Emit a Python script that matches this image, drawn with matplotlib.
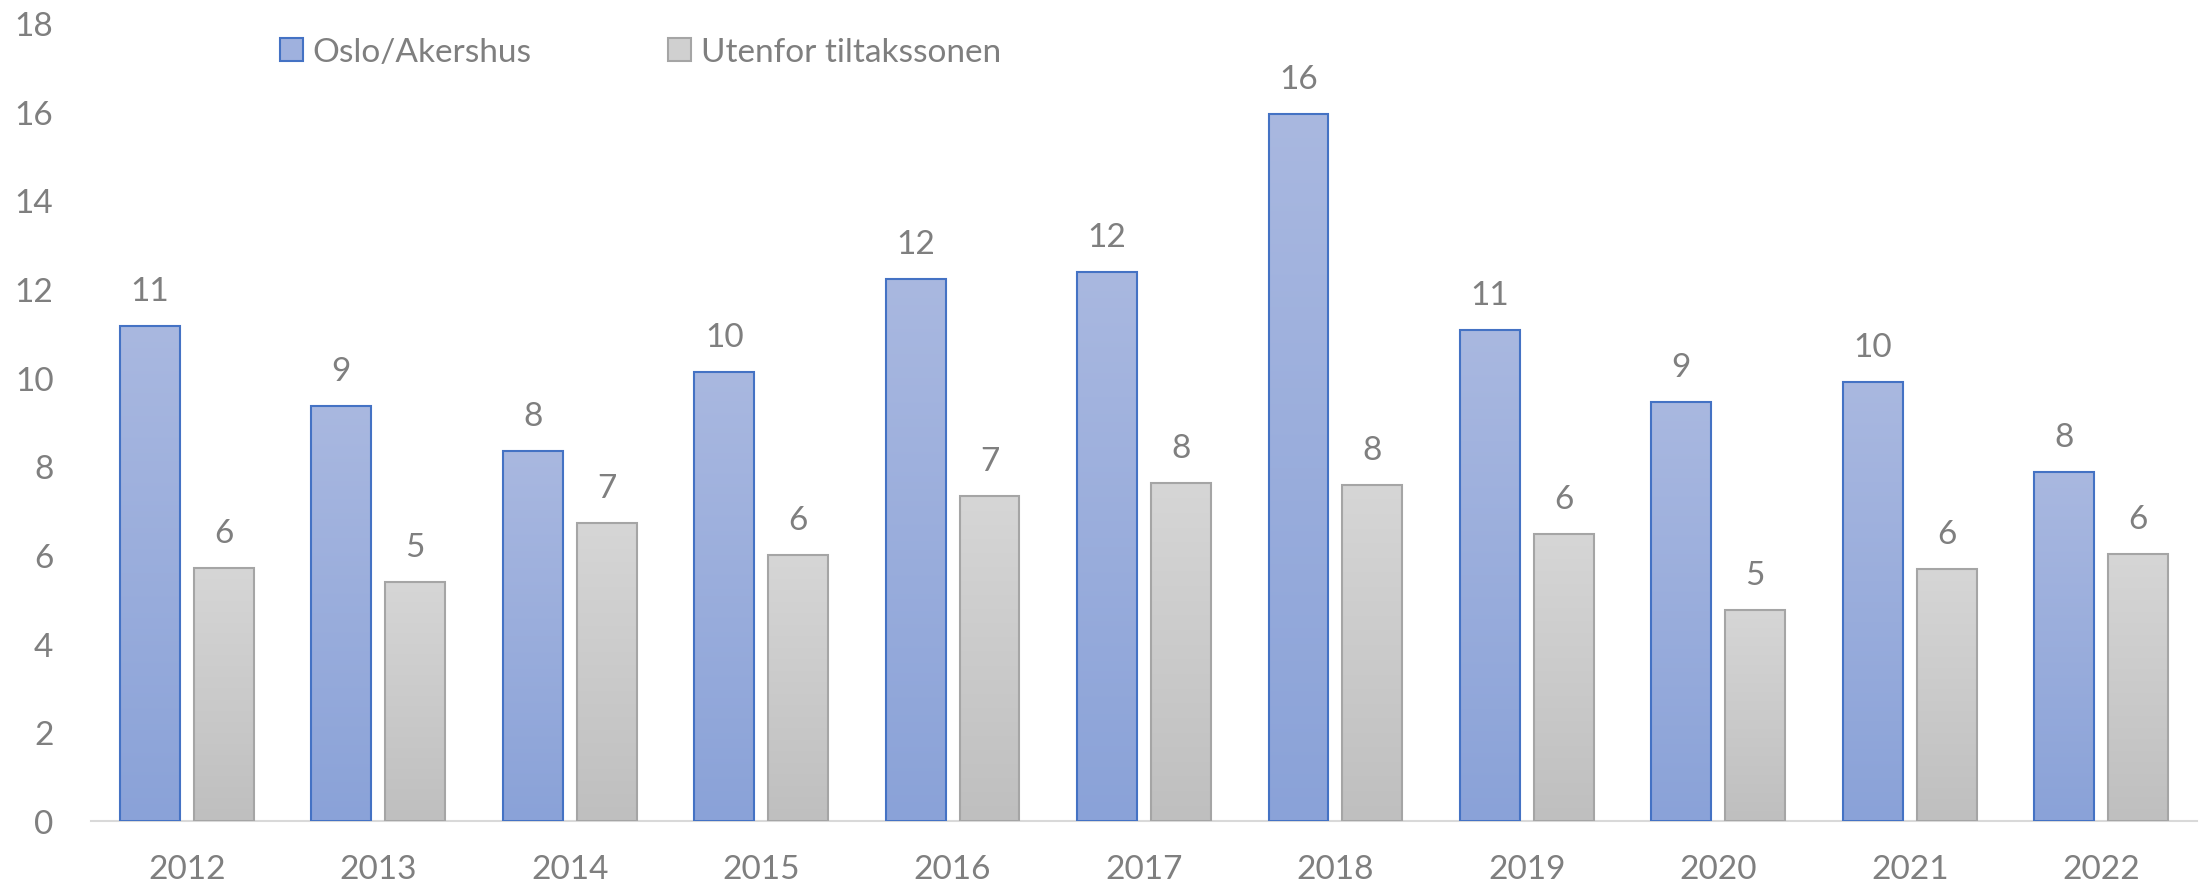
import numpy as np
import matplotlib
matplotlib.use("Agg")
import matplotlib.pyplot as plt
from matplotlib.colors import LinearSegmentedColormap
from matplotlib.patches import Patch

# Data
years = ["2012", "2013", "2014", "2015", "2016", "2017", "2018", "2019", "2020", "2021", "2022"]
oslo = [11.17, 9.37, 8.35, 10.13, 12.22, 12.38, 15.94, 11.08, 9.46, 9.90, 7.87]
utenfor = [5.71, 5.40, 6.73, 6.00, 7.33, 7.62, 7.59, 6.48, 4.76, 5.68, 6.03]
series_names = ["Oslo/Akershus", "Utenfor tiltakssonen"]

plt.rcParams['font.family'] = ['Lato', 'DejaVu Sans']
text_col = "#7f7f7f"
fs = 24

fig = plt.figure(figsize=(22.06, 8.87), dpi=100)
ax = fig.add_axes([91 / 2206, 1 - 822 / 887, (2197 - 91) / 2206, (822 - 24) / 887])

x = np.arange(len(years))
w = 0.3125
off = 0.193

cmap_blue = LinearSegmentedColormap.from_list("b", ["#8aa2d8", "#a9b8e0"])
cmap_grey = LinearSegmentedColormap.from_list("g", ["#bfbfbf", "#d6d6d6"])
grad = np.linspace(0, 1, 256).reshape(-1, 1)

def grad_bars(xs, vals, cmap, edge):
    # bar outline + gradient image clipped to each bar
    bars = ax.bar(xs, vals, width=w, color="none", edgecolor=edge, linewidth=1.5, zorder=3)
    for b in bars:
        x0, y0 = b.get_x(), b.get_y()
        im = ax.imshow(grad, cmap=cmap, aspect="auto", origin="lower",
                       extent=[x0, x0 + b.get_width(), y0, y0 + b.get_height()], zorder=2)
        im.set_clip_path(b)
    for xi, v in zip(xs, vals):
        ax.text(xi, v + 0.45, f"{v:.0f}", ha="center", va="bottom", fontsize=fs, color=text_col)
    return bars

grad_bars(x - off, oslo, cmap_blue, "#4472c4")
grad_bars(x + off, utenfor, cmap_grey, "#a5a5a5")

ax.set_xlim(-0.5, len(years) - 0.5)
ax.set_ylim(0, 18)
ax.set_yticks(range(0, 19, 2))
ax.set_xticks(x)
ax.set_xticklabels(years)
ax.tick_params(axis="both", length=0, labelsize=fs, labelcolor=text_col)
ax.tick_params(axis="y", pad=27)
ax.tick_params(axis="x", pad=24)
for s in ["top", "right", "left"]:
    ax.spines[s].set_visible(False)
ax.spines["bottom"].set_color("#d9d9d9")
ax.spines["bottom"].set_linewidth(1.5)

handles = [Patch(facecolor="#9fb1de", edgecolor="#4472c4", linewidth=1.5),
           Patch(facecolor="#d0d0d0", edgecolor="#a5a5a5", linewidth=1.5)]
leg = fig.legend(handles, series_names, loc="center left", bbox_to_anchor=(280 / 2206, 1 - 53 / 887),
                 ncol=2, frameon=False, fontsize=fs, handlelength=0.68, handleheight=0.68,
                 handletextpad=0.3, columnspacing=4.1, borderaxespad=0, borderpad=0)
for t in leg.get_texts():
    t.set_color(text_col)

fig.savefig("out.png", dpi=100)
